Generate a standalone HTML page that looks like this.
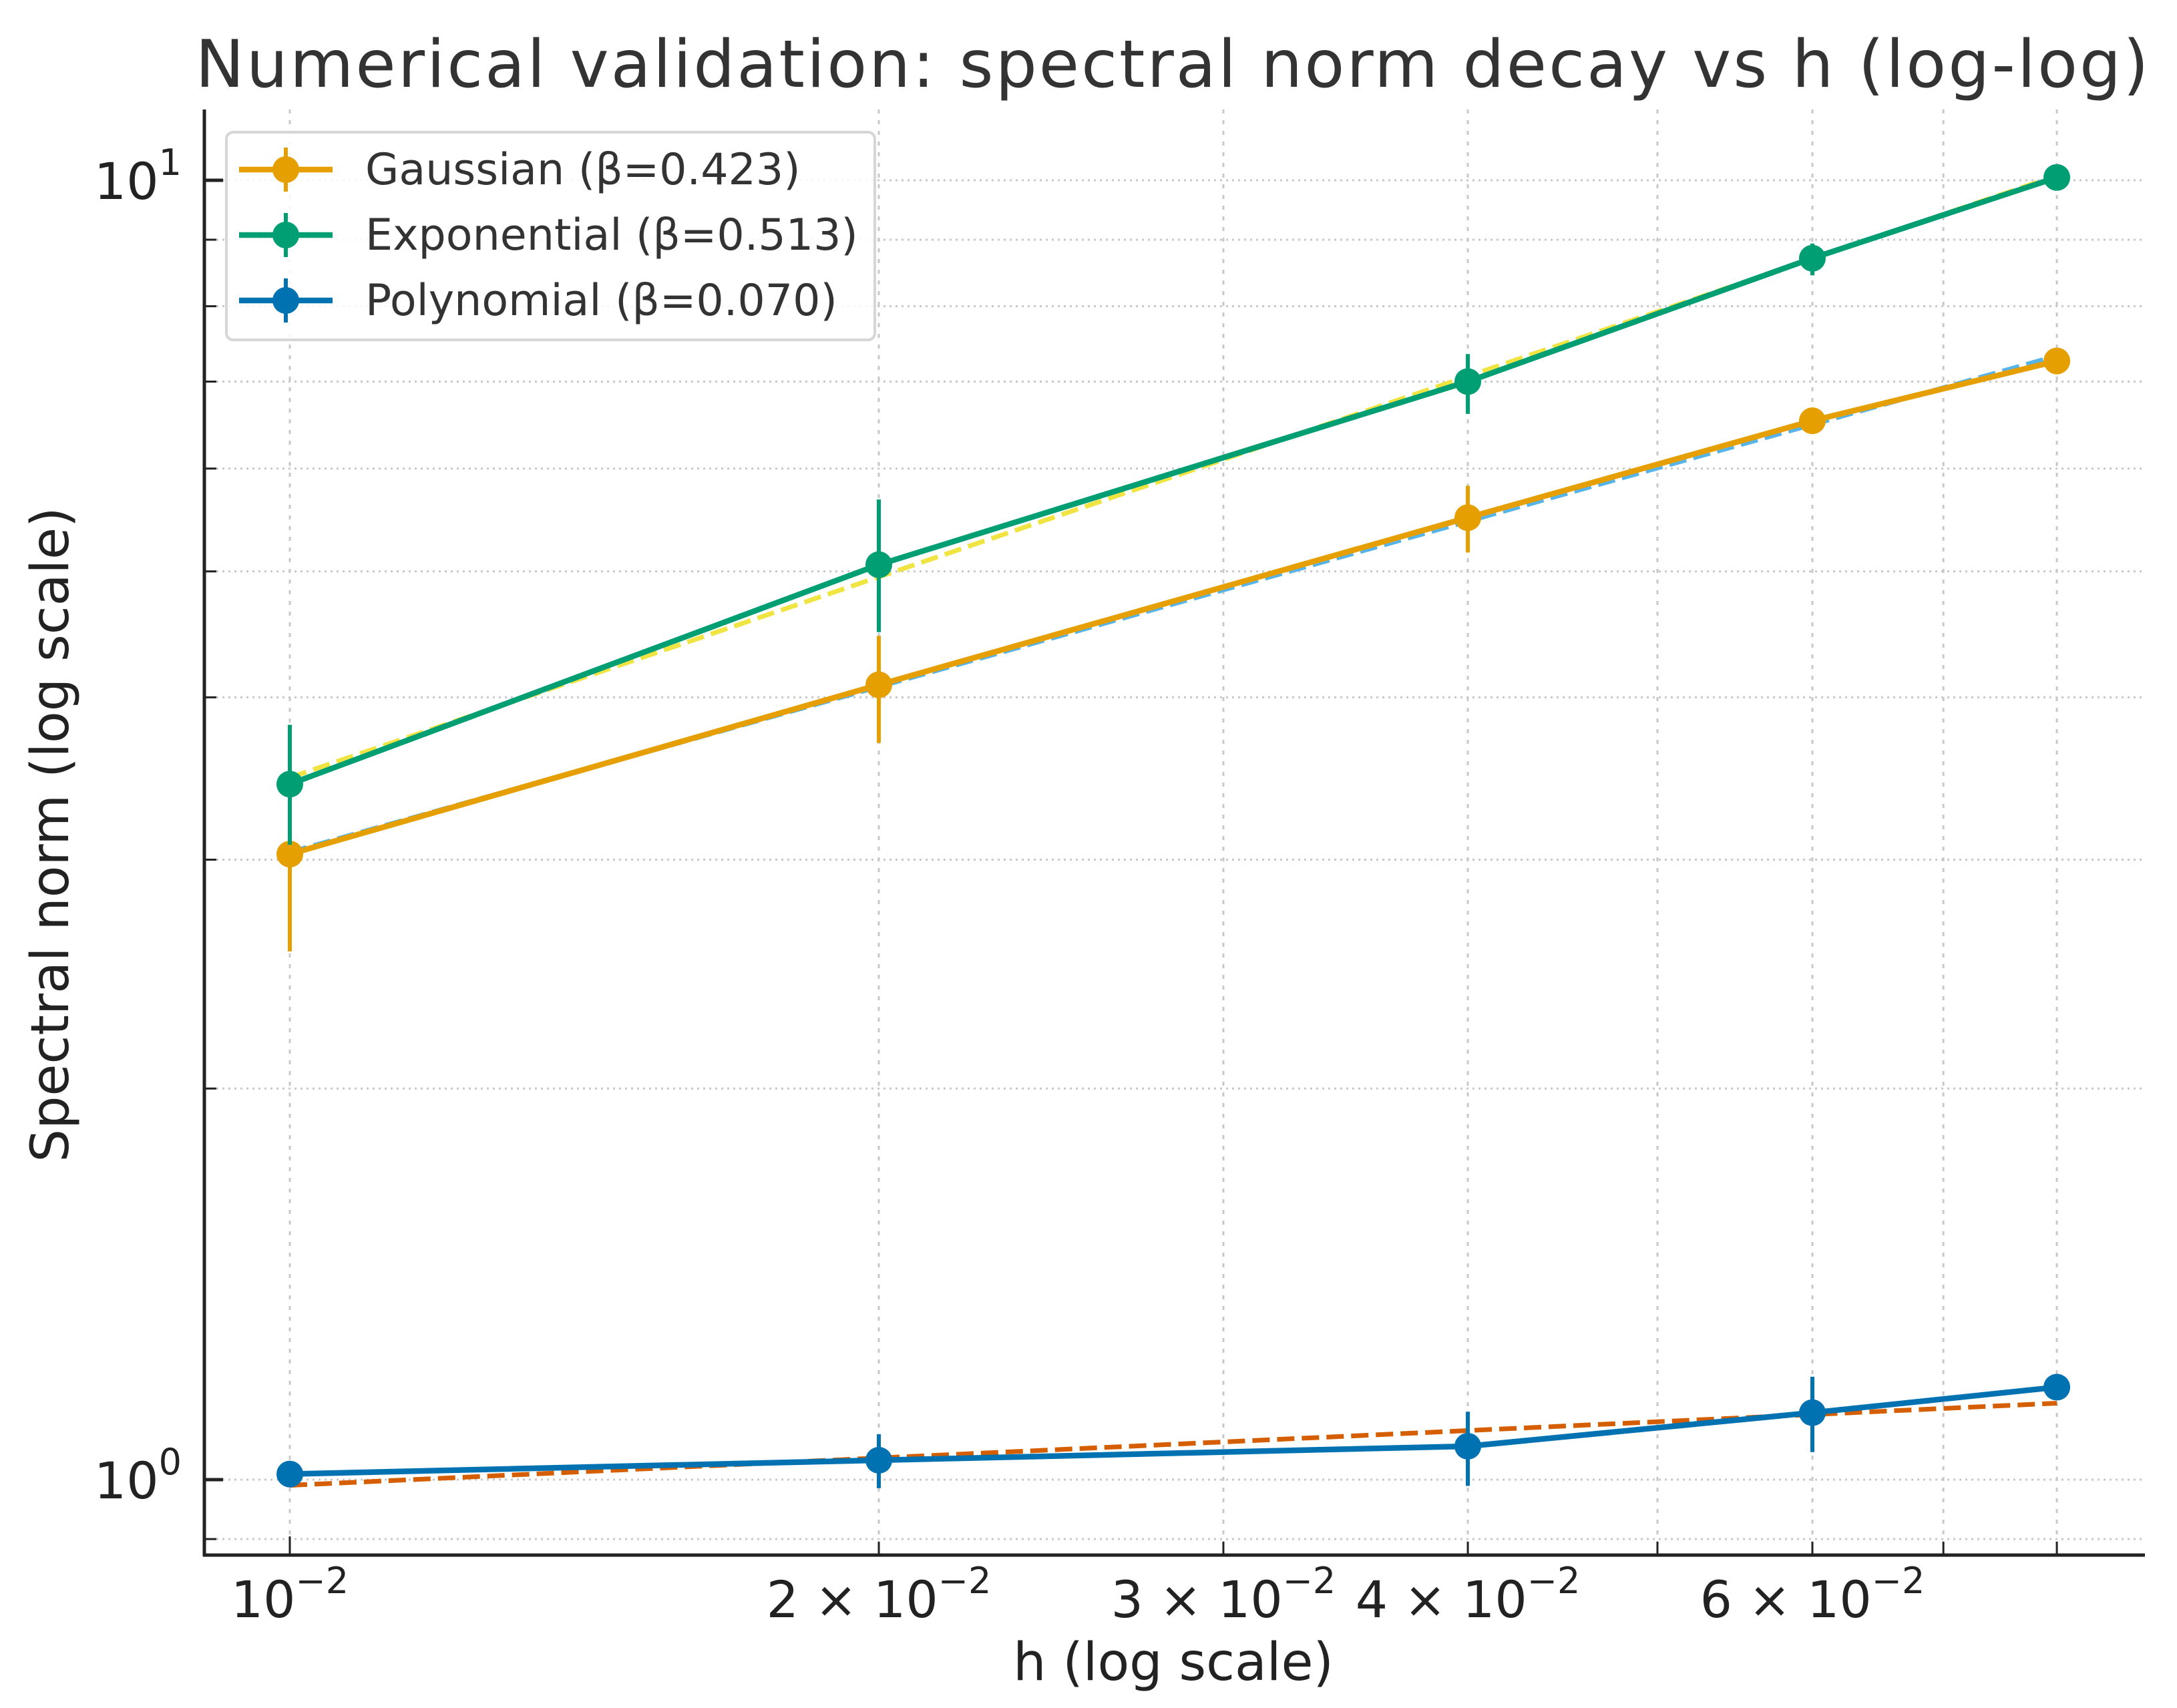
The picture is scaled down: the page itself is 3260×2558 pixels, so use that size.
<!DOCTYPE html>
<html><head><meta charset="utf-8"><style>
body{margin:0;background:#fff}
svg{display:block;font-family:"DejaVu Sans","Liberation Sans",sans-serif}
</style></head><body>
<svg id="chart" width="3260" height="2558" viewBox="0 0 3260 2558" xmlns="http://www.w3.org/2000/svg">
<rect width="3260" height="2558" fill="#fff"/>
<g id="grid"></g>
<g id="series"></g>
<g id="axes"></g>
<text x="1755" y="130" font-size="98" fill="#333" text-anchor="middle" textLength="2925">Numerical validation: spectral norm decay vs h (log-log)</text>
<text x="1757" y="2516" font-size="78" fill="#222" text-anchor="middle">h (log scale)</text>
<text x="0" y="0" font-size="78" fill="#222" text-anchor="middle" transform="translate(102,1250) rotate(-90)">Spectral norm (log scale)</text>
<g id="legend"></g>
</svg>
<script>
const hValues=[0.01,0.02,0.04,0.06,0.08];
const seriesNames=["Gaussian (β=0.423)","Exponential (β=0.513)","Polynomial (β=0.070)"];
const gaussVals=[3.03,4.09,5.50,6.53,7.26];
const gaussLo=[2.55,3.69,5.17,6.42,7.21];
const gaussHi=[3.09,4.46,5.82,6.64,7.31];
const expVals=[3.43,5.06,7.0,8.71,10.05];
const expLo=[3.08,4.49,6.61,8.45,10.0];
const expHi=[3.81,5.68,7.35,8.94,10.1];
const polyVals=[1.01,1.035,1.061,1.126,1.178];
const polyLo=[1.0,0.985,0.989,1.05,1.17];
const polyHi=[1.02,1.084,1.128,1.2,1.186];
const fitBeta=[0.423,0.513,0.070];
const fitStart=[3.04,3.47,0.99];
const yMajor=[1,10];
const yMinor=[0.9,2,3,4,5,6,7,8,9];
const xMajorTicks=[0.01];
const xMinorTicks=[0.02,0.03,0.04,0.05,0.06,0.07,0.08];
const xTickLabels=[["0.01","10","−2",""],["0.02","10","−2","2×"],["0.03","10","−2","3×"],["0.04","10","−2","4×"],["0.06","10","−2","6×"]];

const L=306,R=3212,T=164,B=2329;
const X=v=>434+2930*Math.log10(v/0.01);
const Y=v=>2216-1946*Math.log10(v);
const NS="http://www.w3.org/2000/svg";
function mk(parent,tag,attrs){const e=document.createElementNS(NS,tag);for(const k in attrs)e.setAttribute(k,attrs[k]);parent.appendChild(e);return e;}
const grid=document.getElementById('grid'),axes=document.getElementById('axes'),ser=document.getElementById('series'),leg=document.getElementById('legend');

xMajorTicks.concat(xMinorTicks).forEach(v=>{
  const l=mk(grid,'line',{x1:X(v),x2:X(v),y1:T,y2:B,stroke:'#c8c8c8','stroke-width':3,'stroke-dasharray':'6 10'});
  
  
  const t=mk(axes,'line',{x1:X(v),x2:X(v),y1:B,y2:B-(xMajorTicks.includes(v)?28:20),stroke:'#222','stroke-width':3});
  
  
});
yMajor.concat(yMinor).forEach(v=>{
  const l=mk(grid,'line',{x1:L,x2:R,y1:Y(v),y2:Y(v),stroke:'#c8c8c8','stroke-width':3,'stroke-dasharray':'3 6'});
  
  
  const t=mk(axes,'line',{x1:L,x2:L+(yMajor.includes(v)?28:18),y1:Y(v),y2:Y(v),stroke:'#222','stroke-width':yMajor.includes(v)?5:3});
  
  
});
yMajor.forEach((v,i)=>{
  const t=mk(axes,'text',{x:272,y:Y(v)+28,'font-size':76,fill:'#222','text-anchor':'end'});
  
  
  t.innerHTML='10<tspan dy="-36" font-size="54">'+(i)+'</tspan>';
});
xTickLabels.forEach(d=>{
  const t=mk(axes,'text',{x:X(+d[0]),y:2422,'font-size':76,fill:'#222','text-anchor':'middle'});
  
  
  t.innerHTML=(d[3]?d[3].replace('×',' × '):'')+d[1]+'<tspan dy="-36" font-size="54">'+d[2]+'</tspan>';
});
mk(axes,'line',{x1:L,x2:L,y1:T,y2:B+2,stroke:'#222','stroke-width':5});
mk(axes,'line',{x1:L-2,x2:R,y1:B,y2:B,stroke:'#222','stroke-width':5});

const colors=['#E69F00','#009E73','#0072B2'];
const fitColors=['#56B4E9','#F0E442','#D55E00'];
const vals=[gaussVals,expVals,polyVals],los=[gaussLo,expLo,polyLo],his=[gaussHi,expHi,polyHi];
const keys=['gaussian','exponential','polynomial'];
[2,0,1].forEach(i=>{
  const h0=hValues[0],h1=hValues[hValues.length-1];
  const f=mk(ser,'line',{x1:X(h0),y1:Y(fitStart[i]),x2:X(h1),y2:Y(fitStart[i]*Math.pow(h1/h0,fitBeta[i])),stroke:fitColors[i],'stroke-width':7,'stroke-dasharray':'26 11'});
  
  
});
[0,1,2].forEach(i=>{
  const g=mk(ser,'g',{});
  
  
  hValues.forEach((h,j)=>{
    const e=mk(g,'line',{x1:X(h),x2:X(h),y1:Y(los[i][j]),y2:Y(his[i][j]),stroke:colors[i],'stroke-width':6});
    
    
  });
  const p=mk(g,'polyline',{points:hValues.map((h,j)=>X(h)+','+Y(vals[i][j])).join(' '),fill:'none',stroke:colors[i],'stroke-width':8.5,'stroke-linejoin':'round'});
  
  
  hValues.forEach((h,j)=>{
    const c=mk(g,'circle',{cx:X(h),cy:Y(vals[i][j]),r:20,fill:colors[i]});
    
    
  });
});
const lb=mk(leg,'rect',{x:339,y:198,width:971,height:311,rx:10,fill:'#fff','fill-opacity':0.85,stroke:'#d6d6d6','stroke-width':4});


seriesNames.forEach((n,i)=>{
  const y=254+i*98;
  const g=mk(leg,'g',{});
  
  
  mk(g,'line',{x1:358,x2:498,y1:y,y2:y,stroke:colors[i],'stroke-width':8.5});
  mk(g,'line',{x1:428,x2:428,y1:y-33,y2:y+33,stroke:colors[i],'stroke-width':6});
  mk(g,'circle',{cx:428,cy:y,r:20,fill:colors[i]});
  const t=mk(g,'text',{x:547,y:y+22,'font-size':65,fill:'#333'});
  t.textContent=n;
});
</script>
</body></html>
